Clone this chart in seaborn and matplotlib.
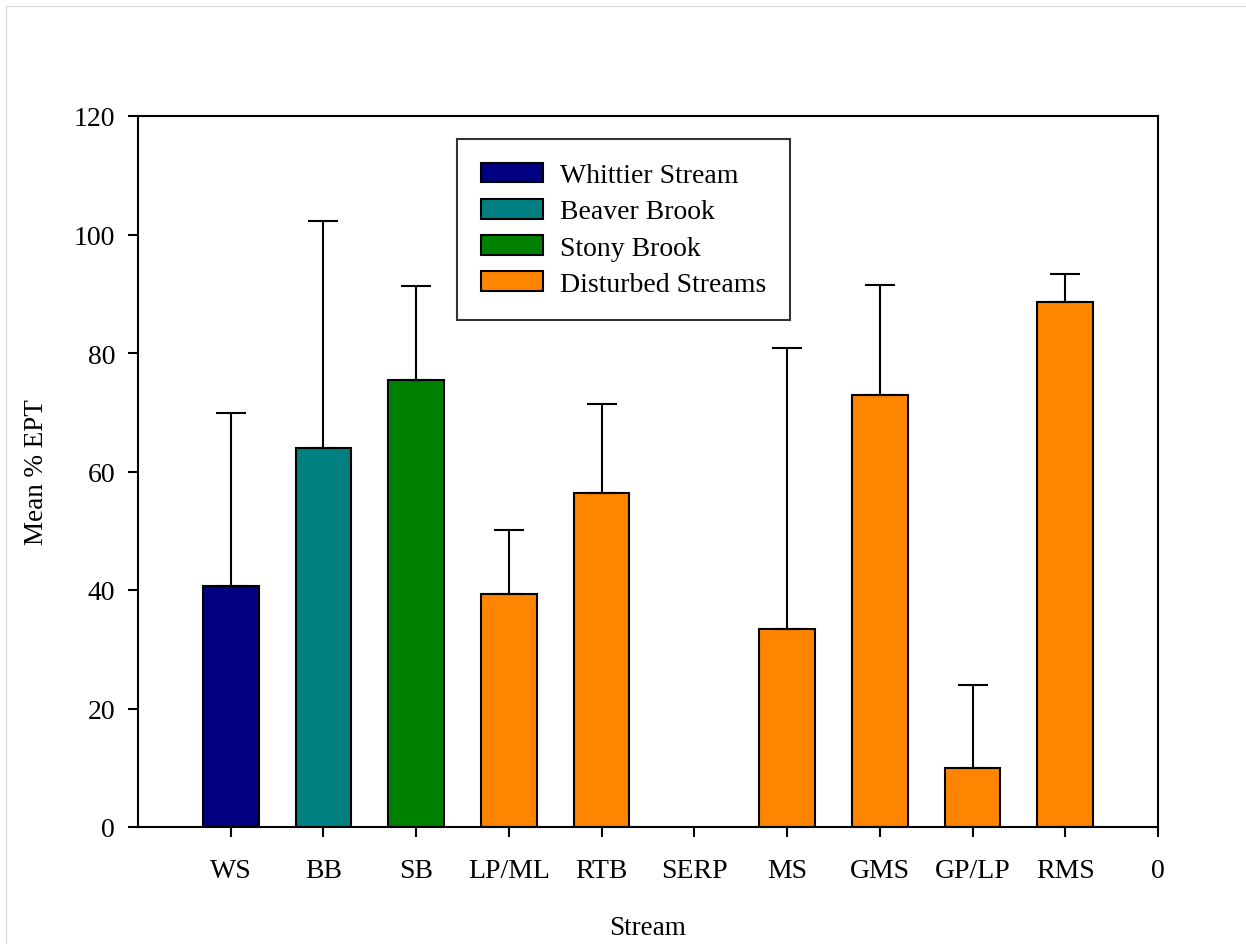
import matplotlib
matplotlib.use("Agg")
import matplotlib.pyplot as plt
import seaborn as sns
import pandas as pd
import numpy as np
from matplotlib.patches import Rectangle

# ---- data ----
streams = ["WS", "BB", "SB", "LP/ML", "RTB", "SERP", "MS", "GMS", "GP/LP", "RMS"]
tick_labels = ["WS", "BB", "SB", "LP/ML", "RTB", "SERP", "MS", "GMS", "GP/LP", "RMS", "0"]
mean_ept = [40.7, 63.9, 75.4, 39.3, 56.4, 0.0, 33.4, 72.9, 10.0, 88.6]
upper_err = [29.1, 38.4, 15.9, 10.8, 15.0, 0.0, 47.4, 18.6, 14.0, 4.8]
groups = ["Whittier Stream", "Beaver Brook", "Stony Brook",
          "Disturbed Streams", "Disturbed Streams", "Disturbed Streams",
          "Disturbed Streams", "Disturbed Streams", "Disturbed Streams",
          "Disturbed Streams"]
group_order = ["Whittier Stream", "Beaver Brook", "Stony Brook", "Disturbed Streams"]
group_colors = ["#000080", "#008080", "#008000", "#FF8400"]

df = pd.DataFrame({"Stream": streams, "EPT": mean_ept, "err": upper_err, "Group": groups})
# a zero mean draws no visible bar
df["EPT_plot"] = df["EPT"].where(df["EPT"] > 0)

sns.set_theme(style="white")
plt.rcParams["font.family"] = ["Liberation Serif", "DejaVu Serif"]

fig = plt.figure(figsize=(12.46, 9.45), dpi=100)
ax = fig.add_axes([138 / 1246, 1 - 828 / 945, 1020 / 1246, 711 / 945])

sns.barplot(data=df, x="Stream", y="EPT_plot", hue="Group", order=tick_labels,
            hue_order=group_order, palette=dict(zip(group_order, group_colors)),
            dodge=False, width=0.6, edgecolor="black", linewidth=1.5,
            saturation=1, errorbar=None, ax=ax)

# upper-only error bars
xs = [tick_labels.index(s) for s in streams]
for x, y, e in zip(xs, mean_ept, upper_err):
    if e > 0:
        ax.errorbar(x, y, yerr=[[0], [e]], fmt="none", ecolor="black",
                    elinewidth=1.5, capsize=11, capthick=1.5, zorder=1)

ax.set_xlim(-1, 10)
ax.set_ylim(0, 120)
ax.set_yticks(np.arange(0, 121, 20))
ax.set_xticks(range(len(tick_labels)))
ax.set_xticklabels(tick_labels)
ax.tick_params(axis="both", which="both", direction="out", length=7.5, width=1.5,
               labelsize=20, colors="black", left=True, bottom=True, top=False, right=False)
ax.tick_params(axis="x", pad=15)
ax.tick_params(axis="y", pad=9)
for sp in ax.spines.values():
    sp.set_visible(True)
    sp.set_color("black")
    sp.set_linewidth(1.5)

ax.set_xlabel("Stream", fontsize=19.5, labelpad=23, color="black")
ax.set_ylabel("Mean % EPT", fontsize=19.5, labelpad=18, color="black")

leg = ax.legend(loc="upper left", bbox_to_anchor=(0.3127, 0.9677), borderaxespad=0,
                frameon=True, fancybox=False, fontsize=20, handlelength=2.25,
                handleheight=0.72, handletextpad=0.6, labelspacing=0.38,
                borderpad=0.85, title=None)
leg.get_frame().set_edgecolor("black")
leg.get_frame().set_linewidth(1.5)
for t in leg.get_texts():
    t.set_color("black")

# faint image border
fig.patches.append(Rectangle((6 / 1246, -0.01), 1.05, 1 - 7 / 945 + 0.01,
                             transform=fig.transFigure, fill=False,
                             edgecolor="#dddddd", linewidth=1))

fig.savefig("out.png", dpi=100)
